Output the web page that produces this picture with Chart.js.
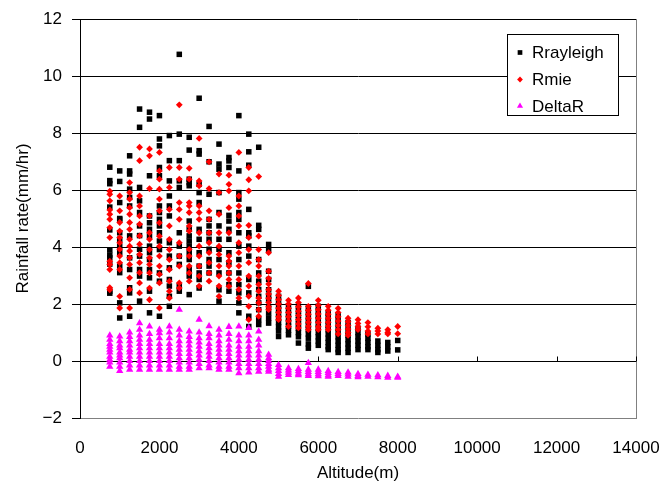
<!DOCTYPE html>
<html>
<head>
<meta charset="utf-8">
<script src="https://cdn.jsdelivr.net/npm/chart.js@4.4.1/dist/chart.umd.min.js"></script>
<style>
html,body{margin:0;padding:0;background:#fff;}
#wrap{width:662px;height:489px;position:relative;}
</style>
</head>
<body>
<div id="wrap"><canvas id="c" width="662" height="489"></canvas></div>
<script>
// Altitude columns (m)
const altitudes = [750,1000,1250,1500,1750,2000,2250,2500,2750,3000,3250,3500,3750,4000,4250,4500,4750,5000,5250,5500,5750,6000,6250,6500,6750,7000,7250,7500,7750,8000];

// Rrayleigh values per altitude column
const rrayleigh = [
  [6.8,6.33,6.22,5.4,4.6,3.9,3.72,3.62,3.4,2.45,2.38],
  [6.67,6.3,5.56,5.0,4.97,4.5,4.27,4.03,3.8,3.33,3.1,2.04,1.51],
  [7.2,6.67,6.56,6.03,5.74,5.44,4.39,3.62,3.21,2.57,2.39,1.57],
  [8.84,8.2,6.09,5.62,5.21,4.74,4.4,3.92,3.68,3.21,2.98,2.1],
  [8.73,8.49,6.5,5.09,4.85,4.62,4.38,4.03,3.8,3.56,3.21,2.92,2.45,1.69],
  [8.61,7.79,7.55,6.79,6.5,5.44,5.21,4.97,4.74,4.5,4.21,3.91,3.09,2.8,1.57],
  [7.91,7.03,6.32,5.79,5.44,5.09,4.15,3.68,3.27,2.86,2.63,2.27,1.92],
  [10.76,7.96,7.03,6.32,6.09,4.5,4.03,3.68,3.39,2.63,2.45],
  [7.85,7.4,6.38,6.26,6.15,4.91,4.62,4.39,4.21,4.03,3.8,3.56,3.21,2.98,2.33],
  [9.22,7.38,7.26,6.2,5.91,5.56,4.62,4.27,3.8,3.33,3.09,2.86,2.56],
  [8.23,6.99,5.85,4.97,4.74,4.5,4.27,3.92,3.56,3.33,3.09],
  [7.61,6.91,6.73,5.91,5.21,4.74,4.27,3.92,3.56,3.09,2.5,2.1],
  [7.14,7.02,6.79,5.11,4.91,4.62,4.27,3.8,3.45,3.09,2.68,2.45],
  [8.61,6.67,5.91,5.68,5.21,4.97,4.5,4.03,3.56,3.09,2.68,2.39,2.04,1.69],
  [7.96,7.34,6.87,5.32,4.5,4.39,4.03,3.68,2.86,2.39,1.57,1.21],
  [7.5,4.76,4.62,3.56,3.09,2.8,2.51,2.27,2.04,1.8,1.45,1.28],
  [4.09,3.91,3.15,2.86,2.5,2.3,2.15,1.9,1.68,1.5,1.33],
  [2.27,2.1,1.95,1.8,1.65,1.5,1.35,1.2,1.05,0.86],
  [1.92,1.78,1.64,1.5,1.36,1.22,1.08,0.92],
  [1.92,1.75,1.6,1.45,1.3,1.15,1.0,0.85,0.63],
  [2.62,1.85,1.7,1.55,1.4,1.25,1.1,0.95,0.8,0.6,0.45],
  [1.92,1.75,1.6,1.45,1.3,1.15,1.0,0.85,0.7,0.55],
  [1.68,1.55,1.4,1.25,1.1,0.95,0.8,0.65,0.5,0.4],
  [1.6,1.45,1.3,1.15,1.0,0.85,0.7,0.55,0.4,0.3],
  [1.35,1.2,1.05,0.9,0.75,0.6,0.45,0.3],
  [1.15,1.0,0.85,0.7,0.55,0.4],
  [0.95,0.8,0.65,0.5,0.4],
  [0.7,0.55,0.4,0.3],
  [0.65,0.5,0.35],
  [0.72,0.39]
];

// Rmie values per altitude column
const rmie = [
  [5.96,5.85,5.62,5.3,5.15,4.97,4.68,4.33,3.5,3.39,3.21,2.57,2.5],
  [5.79,5.27,4.86,4.56,4.33,4.15,3.92,3.68,3.45,3.21,2.27,1.86],
  [6.26,5.91,5.68,5.38,5.15,4.86,4.62,4.27,4.03,3.86,3.62,3.39,2.92,2.51,1.86],
  [7.5,7.03,5.79,5.44,5.09,4.8,4.39,4.1,3.74,3.45,3.1,2.74,2.39],
  [7.44,7.2,6.05,5.09,4.5,4.27,3.91,3.62,3.39,3.09,2.56,2.15],
  [7.32,6.67,6.38,6.03,5.68,5.27,4.85,4.38,4.03,3.68,3.33,3.04,2.74,1.86],
  [6.79,6.09,5.32,4.74,4.27,3.91,3.56,3.21,2.8,2.45,2.21],
  [8.99,6.79,6.38,5.56,5.32,4.97,4.15,3.68,3.33,2.74,2.56],
  [6.76,6.38,5.56,5.44,5.21,4.74,4.56,3.92,3.68,3.33,3.09,2.8],
  [7.81,6.32,6.15,5.44,5.21,4.97,4.5,4.03,3.68,3.33,2.98,2.63],
  [6.99,6.05,5.27,4.97,4.5,4.15,3.8,3.45,3.09,2.8],
  [6.56,5.91,5.15,4.5,4.03,3.74,3.33,2.98,2.63,2.27],
  [6.52,6.2,5.97,5.38,4.5,3.68,3.5,3.33,3.09,2.86,2.62],
  [7.32,5.79,5.44,5.09,4.74,4.15,3.8,3.33,2.86,2.51,2.21],
  [6.79,6.36,5.97,4.76,4.33,3.91,3.45,2.98,2.63,2.27,1.92,1.45],
  [6.47,4.38,3.91,3.56,3.33,2.98,2.68,2.45,2.21,2.04,1.8,1.57],
  [3.8,3.15,2.9,2.7,2.5,2.35,2.2,2.05,1.9,1.8],
  [2.45,2.3,2.15,2.0,1.85,1.7,1.55,1.45],
  [2.13,2.0,1.85,1.7,1.55,1.4,1.21],
  [2.21,2.05,1.9,1.75,1.6,1.45,1.3,1.16],
  [2.72,1.92,1.78,1.64,1.5,1.36,1.22,1.1],
  [2.13,1.95,1.8,1.65,1.5,1.35,1.2,1.1],
  [1.92,1.78,1.64,1.5,1.36,1.22,1.1],
  [1.85,1.7,1.55,1.4,1.25,1.1,0.95],
  [1.5,1.38,1.25,1.12,1.0,0.9],
  [1.45,1.32,1.2,1.1],
  [1.35,1.2,1.05,0.95],
  [1.15,1.05,0.95],
  [1.1,1.0,0.95],
  [1.21,0.96]
];

// DeltaR values per altitude column
const deltaR = [
  [0.9,0.75,0.6,0.5,0.4,0.3,0.15,0.05,-0.05,-0.2],
  [0.86,0.7,0.55,0.45,0.3,0.2,0.1,-0.05,-0.2,-0.35],
  [1.0,0.85,0.7,0.55,0.4,0.3,0.15,0.0,-0.15,-0.3],
  [1.33,1.1,0.9,0.75,0.6,0.45,0.3,0.15,0.0,-0.15,-0.3],
  [1.21,0.95,0.75,0.6,0.45,0.3,0.15,0.0,-0.15,-0.3],
  [1.1,0.98,0.8,0.6,0.45,0.3,0.15,0.0,-0.15,-0.3],
  [1.21,1.0,0.8,0.6,0.45,0.3,0.15,0.0,-0.15,-0.3],
  [1.8,1.1,0.9,0.7,0.55,0.4,0.25,0.1,-0.05,-0.2,-0.3],
  [1.04,0.85,0.7,0.55,0.4,0.25,0.1,-0.05,-0.2,-0.3],
  [1.45,1.0,0.8,0.65,0.5,0.35,0.2,0.05,-0.1,-0.25],
  [1.22,0.95,0.8,0.6,0.45,0.3,0.15,0.0,-0.15,-0.25],
  [1.1,0.9,0.7,0.55,0.4,0.25,0.1,-0.05,-0.2,-0.3],
  [1.2,0.95,0.75,0.55,0.4,0.25,0.1,-0.05,-0.2,-0.3],
  [1.21,0.9,0.7,0.5,0.35,0.2,0.05,-0.1,-0.25,-0.43],
  [1.16,0.9,0.7,0.5,0.35,0.2,0.05,-0.1,-0.25,-0.4],
  [1.04,0.75,0.55,0.35,0.2,0.05,-0.1,-0.25,-0.37],
  [0.22,0.1,0.0,-0.1,-0.2,-0.3,-0.37],
  [-0.14,-0.25,-0.35,-0.45,-0.55],
  [-0.25,-0.33,-0.41,-0.49],
  [-0.28,-0.36,-0.44,-0.5],
  [-0.07,-0.3,-0.38,-0.46,-0.52],
  [-0.3,-0.38,-0.46,-0.53],
  [-0.35,-0.42,-0.5,-0.55],
  [-0.38,-0.45,-0.52],
  [-0.4,-0.47,-0.55],
  [-0.45,-0.52,-0.57],
  [-0.48,-0.55],
  [-0.5,-0.57],
  [-0.52,-0.58],
  [-0.55,-0.58]
];

const seriesNames = ['Rrayleigh','Rmie','DeltaR'];
const xTickValues = [0,2000,4000,6000,8000,10000,12000,14000];
const yTickValues = [-2,0,2,4,6,8,10,12];

function toPoints(cols){
  const pts = [];
  cols.forEach((vals,i)=>vals.forEach(v=>pts.push({x:altitudes[i],y:v})));
  return pts;
}
function fmt(v){ return v < 0 ? '\u2212' + Math.abs(v) : String(v); }

const FONT = '"Liberation Sans", Arial, sans-serif';
Chart.defaults.font.family = FONT;
Chart.defaults.font.size = 17;
Chart.defaults.color = '#000';

const styles = [
  {pointStyle:'rect', radius:3.9, color:'#000000', order:3},
  {pointStyle:'rectRot', radius:3.4, color:'#FF0000', order:2},
  {pointStyle:'triangle', radius:4.2, color:'#FF00FF', order:1}
];
const seriesData = [rrayleigh, rmie, deltaR];

const datasets = seriesNames.map((name,i)=>({
  label:name,
  data:toPoints(seriesData[i]),
  pointStyle:styles[i].pointStyle,
  pointRadius:styles[i].radius,
  pointHoverRadius:styles[i].radius,
  backgroundColor:styles[i].color,
  borderColor:styles[i].color,
  pointBorderWidth:0,
  borderWidth:0,
  showLine:false,
  order:styles[i].order
}));

const framePlugin = {
  id:'frame',
  beforeDatasetsDraw(chart){
    const {ctx, chartArea:a, scales:{x,y}} = chart;
    ctx.save();
    ctx.lineWidth = 1;
    ctx.strokeStyle = '#808080';
    ctx.beginPath();
    ctx.moveTo(Math.round(a.right)+0.5, Math.round(a.top));
    ctx.lineTo(Math.round(a.right)+0.5, Math.round(a.bottom)+1);
    ctx.stroke();
    const y0 = Math.round(y.getPixelForValue(0))+0.5;
    ctx.strokeStyle = '#000';
    ctx.beginPath();
    ctx.moveTo(a.left, y0); ctx.lineTo(a.right, y0);
    x.ticks.forEach(t=>{
      const px = Math.round(x.getPixelForValue(t.value))+0.5;
      ctx.moveTo(px, y0); ctx.lineTo(px, y0-5);
    });
    ctx.stroke();
    ctx.restore();
  }
};

const legendPlugin = {
  id:'boxLegend',
  afterDraw(chart){
    const ctx = chart.ctx;
    const bx = 507.5, by = 34.5, bw = 111, bh = 81;
    ctx.save();
    ctx.fillStyle = '#fff';
    ctx.fillRect(bx, by, bw, bh);
    ctx.strokeStyle = '#000';
    ctx.lineWidth = 1;
    ctx.strokeRect(bx, by, bw, bh);
    const rows = [52.5, 79.5, 106];
    ctx.font = '17px ' + FONT;
    ctx.textBaseline = 'middle';
    ctx.textAlign = 'left';
    seriesNames.forEach((name,i)=>{
      ctx.fillStyle = styles[i].color;
      ctx.strokeStyle = styles[i].color;
      Chart.helpers.drawPoint(ctx, {pointStyle:styles[i].pointStyle, radius:styles[i].radius*0.85, rotation:0, borderWidth:0}, 520, rows[i]);
      ctx.fillStyle = '#000';
      ctx.fillText(name, 532, rows[i]+1);
    });
    ctx.restore();
  }
};

new Chart(document.getElementById('c'), {
  type:'scatter',
  data:{datasets},
  options:{
    responsive:false,
    animation:false,
    devicePixelRatio:1,
    layout:{padding:{top:19, right:26, left:0, bottom:0}},
    plugins:{legend:{display:false}, tooltip:{enabled:false}},
    scales:{
      x:{
        type:'linear', min:0, max:14000,
        afterBuildTicks(s){ s.ticks = xTickValues.map(v=>({value:v})); },
        afterFit(s){ s.height = 71; s.paddingLeft = 0; s.paddingRight = 0; },
        grid:{display:false, drawTicks:false},
        border:{display:false},
        ticks:{padding:20, maxRotation:0, font:{size:17}, callback:(v)=>fmt(v)},
        title:{display:true, text:'Altitude(m)', font:{size:17}, padding:{top:0, bottom:5}}
      },
      y:{
        type:'linear', min:-2, max:12,
        afterBuildTicks(s){ s.ticks = yTickValues.map(v=>({value:v})); },
        afterFit(s){ s.width = 80; s.paddingTop = 0; s.paddingBottom = 0; },
        grid:{
          color:(c)=> (c.tick && c.tick.value === -2) ? '#808080' : '#000',
          lineWidth:1, drawTicks:true, tickLength:8,
          tickColor:'#000'
        },
        border:{display:true, color:'#000', width:1},
        ticks:{padding:10, font:{size:17}, callback:(v)=>fmt(v)},
        title:{display:true, text:'Rainfall rate(mm/hr)', font:{size:17}, padding:{top:13, bottom:0}}
      }
    }
  },
  plugins:[framePlugin, legendPlugin]
});
</script>
</body>
</html>
